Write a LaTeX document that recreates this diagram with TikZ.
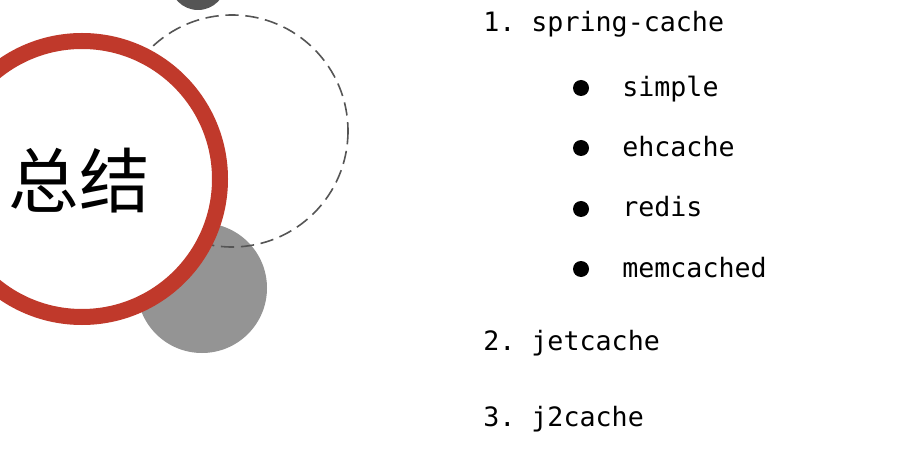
\documentclass[tikz,border=0pt]{standalone}
\usepackage{fontspec}
\setmonofont{DejaVu Sans Mono}
\newfontfamily\cjk{Noto Sans CJK SC}
\definecolor{ringred}{RGB}{192,57,43}
\definecolor{midgray}{RGB}{148,148,148}
\definecolor{darkgray}{RGB}{85,85,85}
\tikzset{
  item/.style={anchor=base west, inner sep=0pt, font=\fontsize{20}{24}\selectfont\ttfamily},
  dotmark/.style={circle, fill=black, inner sep=0pt, minimum size=12pt},
}
\begin{document}
\begin{tikzpicture}[x=0.75pt,y=-0.75pt]
\useasboundingbox[fill=white] (0,0) rectangle (909,452);
\fill[darkgray] (198,-18) circle[radius=28];
\fill[midgray] (202,288) circle[radius=65];
\draw[darkgray, line width=1.2pt, dash pattern=on 10pt off 5pt] (232,131) circle[radius=116];
\draw[ringred, fill=white, line width=12pt] (82,179) circle[radius=138];
\node[font=\cjk\fontsize{53}{60}\selectfont, inner sep=0pt] (title) at (79,181) {总结};
\node[item] (i1) at (483,32) {1. spring-cache};
\node[dotmark] (b1) at (581,88) {};
\node[item] (s1) at (622,97) {simple};
\node[dotmark] (b2) at (581,148) {};
\node[item] (s2) at (622,157) {ehcache};
\node[dotmark] (b3) at (581,209) {};
\node[item] (s3) at (622,217) {redis};
\node[dotmark] (b4) at (581,269) {};
\node[item] (s4) at (622,277) {memcached};
\node[item] (i2) at (483,350) {2. jetcache};
\node[item] (i3) at (483,426) {3. j2cache};
\end{tikzpicture}
\end{document}
